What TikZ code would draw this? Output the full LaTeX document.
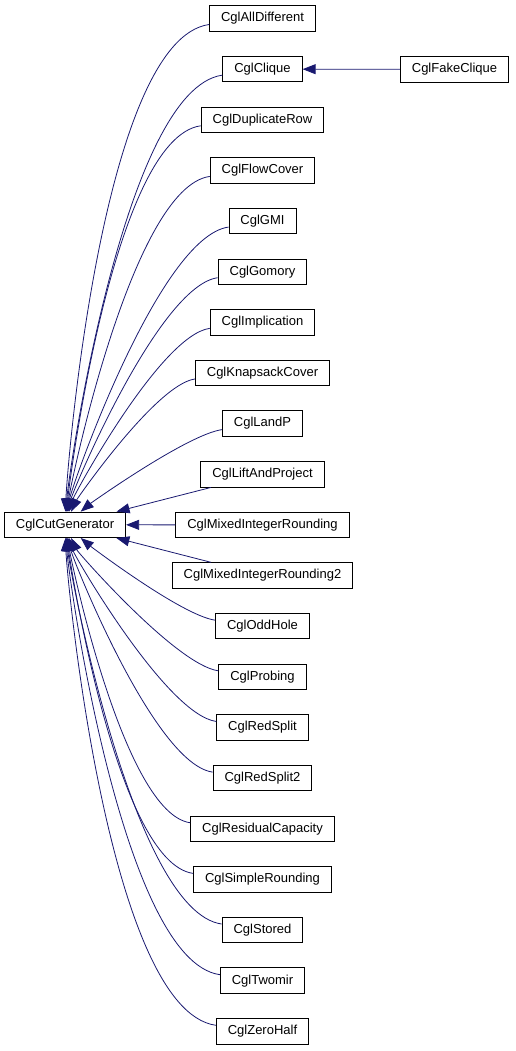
\documentclass[tikz,border=0pt]{standalone}
\usepackage{fontspec}
\setmainfont{Liberation Sans}
\usetikzlibrary{arrows.meta}
\definecolor{edgeblue}{HTML}{191970}
\tikzset{
  cls/.style={draw=black, line width=0.9pt, fill=white, inner xsep=11.5pt, inner ysep=0pt,
    minimum height=25.5pt, font=\fontsize{13}{15}\selectfont},
  edge/.style={draw=edgeblue, line width=0.8pt, -{Triangle[length=13pt,width=10pt]}},
}
\begin{document}
\begin{tikzpicture}[x=1pt,y=1pt]
	\useasboundingbox (0,0) rectangle (515,-1051);

	\node [cls] (gen) at (65,-524.8) {CglCutGenerator};

	\foreach \nm/\lbl [count=\i from 0] in {alldiff/CglAllDifferent, clique/CglClique,
		duprow/CglDuplicateRow, flowcover/CglFlowCover, gmi/CglGMI, gomory/CglGomory,
		implication/CglImplication, knapsack/CglKnapsackCover, landp/CglLandP,
		liftproject/CglLiftAndProject, mir/CglMixedIntegerRounding,
		mirtwo/CglMixedIntegerRounding2, oddhole/CglOddHole, probing/CglProbing,
		redsplit/CglRedSplit, redsplittwo/CglRedSplit2, rescap/CglResidualCapacity,
		simpleround/CglSimpleRounding, stored/CglStored, twomir/CglTwomir,
		zerohalf/CglZeroHalf}
		\node [cls] (\nm) at (262.5,-18.5-50.64*\i) {\lbl};

	\node [cls] (fakeclique) at (454.5,-69.3) {CglFakeClique};

	\begin{scope}
		\foreach \nm/\ang in {alldiff/88, clique/86, duprow/84, flowcover/82, gmi/80,
			gomory/77, implication/73, knapsack/65, landp/40}
			\draw [edge] ([yshift=-6pt]\nm.west) to [out=188, in=\ang, out looseness=0.55, in looseness=0.2] (gen);
		\foreach \nm/\ang in {oddhole/-40, probing/-65, redsplit/-73, redsplittwo/-77,
			rescap/-80, simpleround/-82, stored/-84, twomir/-86, zerohalf/-88}
			\draw [edge] ([yshift=6pt]\nm.west) to [out=172, in=\ang, out looseness=0.55, in looseness=0.2] (gen);
		\foreach \nm in {liftproject, mir, mirtwo}
			\draw [edge] (\nm) -- (gen);
		\draw [edge] (fakeclique) -- (clique);
	\end{scope}
\end{tikzpicture}
\end{document}
